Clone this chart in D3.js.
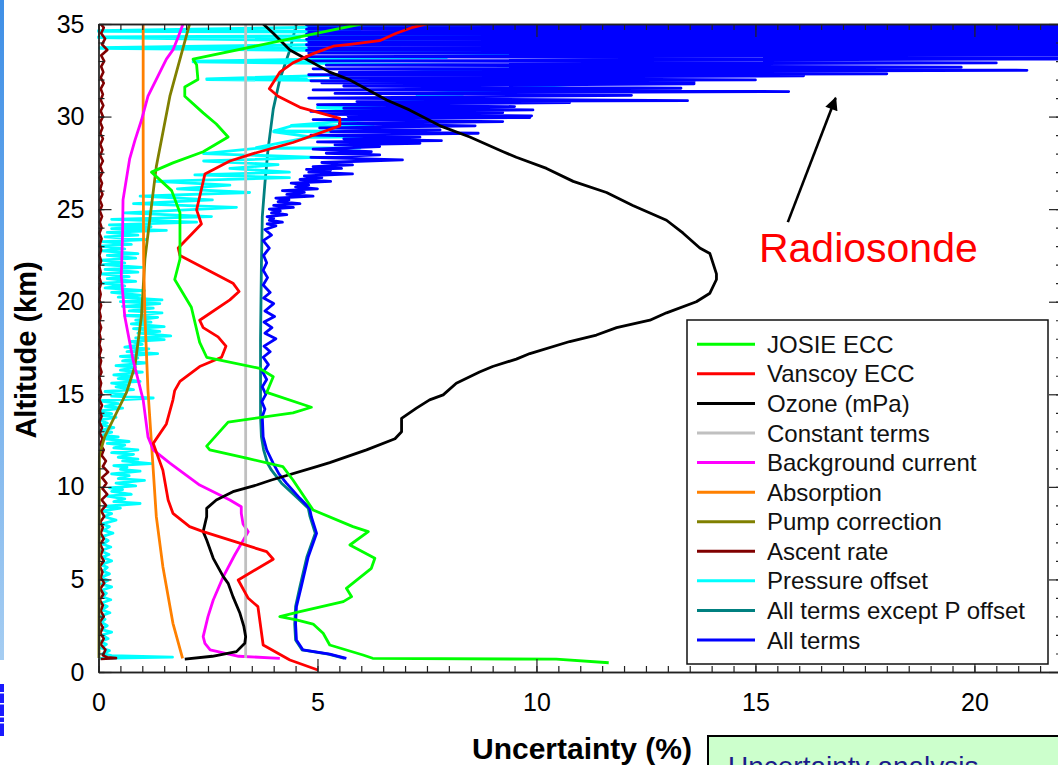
<!DOCTYPE html>
<html>
<head>
<meta charset="utf-8">
<script src="https://cdn.jsdelivr.net/npm/d3@7"></script>
<style>
  body { margin: 0; background: #fff; overflow: hidden; }
  svg { display: block; }
  text { font-family: Arial, "Liberation Sans", sans-serif; }
</style>
</head>
<body>
<svg id="chart" width="1058" height="765"></svg>
<script>
// Ozonesonde uncertainty budget: each profile is a list of [uncertainty %, altitude km]

const josieEcc = [[11.65,0.5],[10.45,0.69],[6.26,0.74],[6.04,0.92],[5.28,1.46],[5.13,2.09],[4.9,2.59],[4.52,2.81],[4.14,2.99],[4.6,3.26],[5.59,3.8],[5.78,4.07],[5.66,4.52],[6.23,5.6],[6.31,6.14],[5.74,6.86],[6.16,7.58],[5.81,7.85],[4.9,8.75],[4.44,10.37],[4.21,11.09],[3.38,11.55],[2.54,12.0],[2.47,12.2],[2.96,13.5],[4.44,14.0],[4.86,14.3],[3.84,15.1],[3.99,15.95],[3.68,16.4],[2.47,17.0],[2.31,17.8],[2.12,19.7],[1.74,21.2],[1.86,22.3],[1.86,24.8],[1.67,26.0],[1.21,27.0],[1.70,27.5],[2.39,28.1],[2.96,28.9],[2.69,29.6],[2.39,30.2],[1.97,31.1],[1.97,31.6],[2.27,32.0],[2.24,32.8],[2.16,33.1],[6.1,35.05]];

const vanscoyEcc = [[5.01,0.11],[4.37,0.65],[3.76,1.46],[3.64,3.53],[3.42,3.98],[3.19,4.97],[3.99,6.09],[3.84,6.5],[2.39,7.58],[2.08,7.85],[1.70,8.57],[1.59,9.29],[1.47,10.9],[1.25,12.35],[1.55,13.4],[1.70,14.7],[1.74,15.2],[1.86,15.7],[2.31,16.5],[2.81,17.0],[2.91,17.6],[2.73,18.1],[2.39,18.6],[2.31,19.0],[3.0,20.1],[3.21,20.55],[3.07,21.0],[1.86,22.5],[1.82,22.9],[2.35,24.2],[2.24,24.96],[2.43,26.9],[3.0,27.6],[3.53,28.0],[4.44,28.6],[5.51,29.5],[5.51,29.9],[4.6,30.5],[4.1,31.1],[3.9,31.5],[4.14,32.4],[4.44,32.9],[4.90,33.4],[5.36,33.8],[5.74,33.9],[6.42,34.1],[6.8,34.5],[7.15,34.8],[7.5,35.0]];

const ozoneMpa = [[1.97,0.69],[2.6,0.85],[3.15,1.1],[3.34,1.55],[3.36,1.91],[3.32,2.45],[3.23,3.17],[3.07,4.07],[2.96,4.79],[2.85,5.15],[2.62,6.14],[2.47,7.13],[2.39,7.58],[2.47,8.39],[2.47,8.84],[2.69,9.29],[3.07,9.74],[3.61,10.1],[3.95,10.37],[4.98,11.09],[5.28,11.31],[6.12,12.0],[6.77,12.6],[6.92,12.98],[6.92,13.7],[7.26,14.25],[7.56,14.7],[7.87,14.97],[8.17,15.6],[8.7,16.2],[9.0,16.5],[9.54,16.9],[9.85,17.2],[10.76,17.85],[11.37,18.2],[11.83,18.6],[12.59,19.0],[12.97,19.4],[13.65,20.0],[13.96,20.46],[14.11,21.2],[14.11,21.5],[13.96,22.6],[13.73,22.9],[13.35,23.7],[12.97,24.4],[12.2,25.2],[11.6,25.9],[10.84,26.5],[10.23,27.2],[9.54,27.8],[9.24,28.1],[8.48,28.9],[7.8,29.5],[7.1,30.36],[6.58,30.9],[5.74,31.98],[5.28,32.4],[4.75,33.1],[4.37,33.6],[3.99,34.5],[3.76,35.0]];

const constantTerms = [[3.36,0.76],[3.36,35.0]];

const backgroundCurrent = [[4.14,0.74],[3.2,0.85],[2.55,1.2],[2.43,1.55],[2.39,1.91],[2.50,2.99],[2.62,3.89],[2.85,5.15],[3.11,6.32],[3.42,7.58],[3.3,8.0],[3.26,8.57],[3.26,8.93],[3.0,9.29],[2.31,10.1],[1.63,11.28],[1.25,12.0],[1.13,12.7],[1.02,14.7],[0.79,16.85],[0.60,19.2],[0.52,21.4],[0.55,23.7],[0.56,25.5],[0.71,27.7],[0.83,28.7],[0.98,29.8],[1.13,31.1],[1.36,32.2],[1.55,33.1],[1.70,33.6],[1.82,34.3],[1.93,35.0]];

const absorption = [[1.92,0.74],[1.70,2.63],[1.47,5.69],[1.32,8.39],[1.25,10.9],[1.13,15.2],[1.06,19.2],[1.03,22.3],[1.02,28.0],[1.02,35.0]];

const pumpCorrection = [[0.01,0.75],[0.02,11.6],[0.03,11.8],[0.14,12.7],[0.37,13.8],[0.64,15.1],[0.83,16.5],[0.98,19.2],[1.06,22.3],[1.19,24.8],[1.32,27.3],[1.63,31.1],[2.08,35.0]];

const ascentRate = [[0.05,0.7],[0.4,0.75],[0.2,0.8],[0.1,0.9],[0.16,1.2],[0.05,1.5],[0.12,1.8],[0.04,2.1],[0.1,2.4],[0.03,2.7],[0.12,3.0],[0.05,3.3],[0.1,3.6],[0.03,3.9],[0.11,4.2],[0.04,4.5],[0.13,4.8],[0.05,5.1],[0.09,5.4],[0.03,5.7],[0.12,6.0],[0.05,6.3],[0.1,6.6],[0.04,6.9],[0.12,7.2],[0.05,7.5],[0.1,7.8],[0.04,8.1],[0.13,8.4],[0.06,8.7],[0.17,9.0],[0.07,9.3],[0.2,9.6],[0.09,9.9],[0.18,10.2],[0.08,10.5],[0.22,10.8],[0.1,11.1],[0.17,11.4],[0.07,11.7],[0.12,12.0],[0.04,12.3],[0.09,12.6],[0.03,12.9],[0.08,13.2],[0.02,13.5],[0.07,13.8],[0.03,14.1],[0.08,14.4],[0.02,14.7],[0.07,15.0],[0.03,15.3],[0.06,15.6],[0.02,15.9],[0.07,16.2],[0.03,16.5],[0.06,16.8],[0.02,17.1],[0.06,17.4],[0.02,17.7],[0.05,18.0],[0.02,18.3],[0.06,18.6],[0.02,18.9],[0.05,19.2],[0.02,19.5],[0.06,19.8],[0.02,20.1],[0.05,20.4],[0.02,20.7],[0.06,21.0],[0.02,21.3],[0.05,21.6],[0.02,21.9],[0.06,22.2],[0.02,22.5],[0.06,22.8],[0.03,23.1],[0.07,23.4],[0.02,23.7],[0.07,24.0],[0.03,24.3],[0.08,24.6],[0.03,24.9],[0.08,25.2],[0.03,25.5],[0.09,25.8],[0.04,26.1],[0.08,26.4],[0.03,26.7],[0.09,27.0],[0.04,27.3],[0.1,27.6],[0.04,27.9],[0.09,28.2],[0.04,28.5],[0.1,28.8],[0.04,29.1],[0.09,29.4],[0.04,29.7],[0.1,30.0],[0.05,30.3],[0.11,30.6],[0.05,30.9],[0.1,31.2],[0.05,31.5],[0.12,31.8],[0.05,32.1],[0.11,32.4],[0.06,32.7],[0.13,33.0],[0.06,33.3],[0.2,33.6],[0.08,33.9],[0.15,34.2],[0.06,34.5],[0.12,34.8],[0.05,35.0]];

const pressureOffset = [[0.02,0.74],[1.69,0.8],[0.3,0.88],[0.1,1.0],[0.25,1.15],[0.05,1.3],[0.18,1.5],[0.04,1.65],[0.22,1.8],[0.08,2.0],[0.3,2.15],[0.05,2.3],[0.2,2.5],[0.06,2.7],[0.15,2.85],[0.03,3.0],[0.26,3.2],[0.08,3.35],[0.2,3.55],[0.04,3.7],[0.28,3.9],[0.1,4.05],[0.18,4.25],[0.05,4.4],[0.3,4.6],[0.07,4.75],[0.22,4.95],[0.04,5.1],[0.25,5.3],[0.1,5.45],[0.2,5.65],[0.05,5.8],[0.3,6.0],[0.08,6.2],[0.24,6.35],[0.05,6.55],[0.28,6.75],[0.1,6.9],[0.22,7.1],[0.06,7.3],[0.33,7.5],[0.12,7.65],[0.25,7.85],[0.08,8.0],[0.4,8.2],[0.12,8.4],[0.3,8.55],[0.1,8.7],[0.5,8.85],[0.12,8.95],[0.95,9.1],[0.35,9.2],[0.6,9.35],[0.2,9.5],[0.75,9.6],[0.3,9.75],[0.55,9.85],[0.25,9.95],[0.85,10.05],[0.4,10.2],[1.05,10.35],[0.45,10.45],[0.7,10.6],[0.3,10.7],[0.95,10.85],[0.5,10.95],[0.65,11.05],[0.35,11.15],[1.2,11.25],[0.55,11.4],[0.9,11.5],[0.45,11.6],[0.8,11.75],[0.3,11.85],[0.9,12.0],[0.35,12.1],[0.6,12.25],[0.2,12.35],[0.7,12.45],[0.1,12.6],[0.45,12.7],[0.08,12.8],[0.3,12.95],[0.04,13.05],[0.35,13.2],[0.05,13.35],[0.2,13.45],[0.02,13.6],[0.4,13.75],[0.08,13.85],[0.3,13.95],[0.03,14.1],[0.55,14.25],[0.15,14.35],[0.45,14.5],[0.02,14.65],[1.25,14.8],[0.3,14.9],[0.6,15.0],[0.15,15.15],[0.8,15.25],[0.4,15.4],[0.7,15.5],[0.3,15.6],[0.95,15.7],[0.45,15.85],[0.75,15.95],[0.35,16.05],[1.0,16.2],[0.5,16.3],[0.85,16.45],[0.4,16.55],[1.1,16.7],[0.55,16.8],[0.9,16.95],[0.5,17.05],[1.35,17.2],[0.65,17.3],[1.15,17.45],[0.6,17.55],[1.0,17.7],[0.75,17.85],[1.5,17.95],[0.85,18.05],[1.65,18.15],[0.9,18.3],[1.4,18.4],[0.8,18.55],[1.5,18.65],[0.75,18.8],[1.2,18.9],[0.85,19.0],[1.35,19.15],[0.6,19.25],[1.45,19.4],[0.7,19.5],[1.25,19.65],[0.55,19.75],[1.4,19.9],[0.5,20.0],[1.45,20.1],[0.45,20.25],[0.95,20.35],[0.3,20.5],[1.05,20.6],[0.15,20.75],[0.6,20.85],[0.1,21.0],[0.85,21.1],[0.2,21.25],[0.7,21.35],[0.05,21.5],[0.9,21.6],[0.15,21.75],[1.0,21.85],[0.1,22.0],[0.6,22.1],[0.05,22.25],[0.85,22.35],[0.2,22.5],[0.9,22.6],[0.08,22.75],[0.6,22.85],[0.02,23.0],[0.75,23.1],[0.1,23.25],[1.1,23.35],[0.15,23.5],[0.9,23.6],[0.2,23.75],[1.55,23.85],[0.3,23.95],[1.2,24.05],[0.25,24.15],[2.24,24.3],[0.3,24.45],[2.58,24.6],[0.6,24.8],[3.15,25.1],[0.8,25.3],[2.6,25.5],[0.95,25.7],[3.45,25.9],[1.8,26.1],[3.0,26.3],[1.3,26.5],[4.36,26.7],[2.2,26.85],[4.36,27.0],[3.0,27.2],[4.1,27.4],[2.4,27.6],[5.0,27.8],[2.4,28.0],[3.6,28.28],[5.97,28.3],[3.6,28.32],[4.8,28.88],[6.2,28.9],[4.8,28.92],[4.0,29.18],[6.5,29.2],[4.0,29.22],[4.4,29.48],[6.27,29.5],[4.4,29.52],[6.65,29.93],[7.75,29.95],[6.65,29.97],[7.1,30.18],[8.17,30.2],[7.1,30.22],[5.0,30.48],[6.42,30.5],[5.0,30.52],[7.4,30.93],[8.4,30.95],[7.4,30.97],[7.27,31.18],[8.32,31.2],[7.27,31.22],[8.86,31.4],[9.73,31.42],[8.86,31.44],[11.1,31.78],[11.8,31.8],[11.1,31.82],[2.47,32.0],[4.75,32.02],[2.47,32.04],[6.12,32.28],[7.38,32.3],[6.12,32.32],[10.7,32.68],[12.2,32.7],[10.7,32.72],[2.16,32.95],[4.75,32.97],[2.16,32.99],[6.77,33.17],[7.95,33.19],[6.77,33.21],[10.8,33.4],[12.4,33.42],[10.8,33.44],[0.03,33.68],[6.9,33.7],[0.03,33.72],[7.66,33.98],[8.82,34.0],[7.66,34.02],[0.0,34.26],[4.6,34.28],[0.0,34.3],[13.0,34.46],[13.8,34.48],[13.0,34.5],[0.0,34.6],[5.97,34.62],[0.0,34.64],[7.86,34.93],[12.06,34.95],[7.86,34.97]];

const allExceptPOffset = [[5.62,0.74],[5.25,0.97],[4.65,1.19],[4.5,1.73],[4.48,2.6],[4.5,3.53],[4.6,4.61],[4.76,6.23],[4.95,7.49],[4.83,8.39],[4.79,8.84],[4.55,9.38],[4.18,10.2],[3.95,10.9],[3.86,11.27],[3.77,12.0],[3.72,12.7],[3.7,13.8],[3.7,16.0],[3.7,18.0],[3.71,20.0],[3.72,22.0],[3.74,24.6],[3.80,26.4],[3.87,28.2],[3.99,30.4],[4.14,32.0],[4.37,33.6],[4.52,35.0]];

const allTerms = [[5.66,0.74],[5.28,0.97],[4.67,1.19],[4.52,1.73],[4.50,2.6],[4.52,3.53],[4.63,4.61],[4.79,6.23],[4.98,7.49],[4.86,8.39],[4.82,8.84],[4.6,9.38],[4.29,10.2],[4.12,10.7],[3.99,11.27],[3.84,12.0],[3.76,12.7],[3.74,13.8],[3.8,14.2],[3.73,14.6],[3.82,15.0],[3.74,15.4],[3.84,15.8],[3.75,16.2],[3.88,16.6],[3.76,17.0],[3.92,17.3],[3.78,17.6],[4.05,18.0],[3.8,18.3],[3.96,18.6],[3.78,18.9],[4.02,19.2],[3.8,19.5],[4.0,19.9],[3.77,20.2],[3.92,20.5],[3.76,20.9],[3.86,21.3],[3.76,21.7],[3.84,22.1],[3.77,22.5],[3.9,22.9],[3.76,23.3],[3.95,23.6],[3.8,23.9],[4.05,24.1],[3.85,24.2],[4.2,24.3],[3.9,24.4],[4.0,24.5],[3.85,24.6],[4.3,24.7],[3.95,24.8],[4.15,24.9],[3.9,25.0],[4.45,25.1],[4.0,25.2],[4.6,25.3],[4.1,25.4],[4.35,25.5],[4.05,25.6],[4.9,25.7],[4.3,25.8],[4.7,25.9],[4.2,26.0],[5.0,26.1],[4.5,26.2],[4.8,26.3],[4.4,26.4],[5.3,26.5],[4.6,26.6],[5.1,26.7],[4.7,26.8],[5.8,26.9],[4.8,27.0],[5.3,27.1],[4.75,27.15],[5.55,27.2],[4.9,27.3],[5.8,27.39],[5.1,27.52],[6.94,27.66],[4.85,27.8],[6.42,27.93],[5.2,28.02],[6.23,28.1],[4.9,28.24],[6.42,28.38],[5.4,28.47],[7.34,28.56],[5.0,28.63],[7.83,28.7],[5.6,28.8],[7.34,28.89],[4.85,29.0],[8.67,29.1],[5.3,29.19],[7.8,29.28],[5.05,29.39],[8.6,29.5],[5.5,29.62],[9.23,29.73],[4.9,29.84],[9.85,29.95],[5.7,30.0],[9.89,30.04],[5.2,30.12],[9.23,30.21],[4.85,30.28],[9.92,30.36],[5.6,30.45],[9.5,30.54],[5.0,30.65],[10.76,30.76],[5.9,30.81],[13.45,30.86],[4.8,31.0],[12.17,31.15],[5.4,31.25],[15.76,31.35],[4.9,31.44],[13.3,31.53],[5.6,31.65],[13.6,31.77],[5.1,31.82],[13.6,31.87],[4.85,31.93],[15.0,31.98],[5.3,32.09],[16.1,32.2],[4.8,32.26],[18.0,32.31],[5.5,32.4],[21.2,32.5],[4.9,32.58],[19.7,32.67],[5.2,32.78],[20.5,32.9],[4.8,33.01],[26.0,33.13],[4.75,33.24],[28.0,33.35],[4.8,33.43],[30.0,33.5],[4.75,33.57],[30.0,33.64],[4.8,33.72],[30.0,33.8],[4.75,33.88],[30.0,33.96],[4.8,34.03],[30.0,34.1],[4.75,34.17],[30.0,34.23],[4.8,34.31],[30.0,34.4],[4.75,34.45],[30.0,34.5],[4.8,34.57],[30.0,34.63],[4.75,34.72],[30.0,34.8],[4.8,34.85],[30.0,34.9],[4.75,34.95],[30.0,35.0],[4.8,35.05]];

// Axis ticks
const xMajorTicks = [0, 5, 10, 15, 20];
const yMajorTicks = [0, 5, 10, 15, 20, 25, 30, 35];

// Legend entries (top to bottom) and the order the profiles are drawn in
const seriesNames = ["JOSIE ECC", "Vanscoy ECC", "Ozone (mPa)", "Constant terms", "Background current", "Absorption", "Pump correction", "Ascent rate", "Pressure offset", "All terms except P offset", "All terms"];
const seriesColors = ["#00ff00", "#ff0000", "#000000", "#c0c0c0", "#ff00ff", "#ff8000", "#808000", "#800000", "#00ffff", "#008080", "#0000ff"];
const seriesData = [josieEcc, vanscoyEcc, ozoneMpa, constantTerms, backgroundCurrent, absorption, pumpCorrection, ascentRate, pressureOffset, allExceptPOffset, allTerms];
const drawOrder = [9, 8, 10, 7, 6, 5, 4, 3, 2, 1, 0];

// Annotation
const noteText = "Radiosonde";
const noteTextPos = [15.08, 22.15];
const noteArrowFrom = [15.74, 24.3];
const noteArrowTo = [16.83, 31.0];

const svg = d3.select("#chart");
const plotLeft = 98.5, plotRight = 1062, plotTop = 24, plotBottom = 672;

const x = d3.scaleLinear().domain([0, 22]).range([plotLeft, plotRight]);
const y = d3.scaleLinear().domain([0, 35]).range([plotBottom, plotTop]);

// slide decorations around the chart
const defs = svg.append("defs");
const grad = defs.append("linearGradient").attr("id", "edgeGrad").attr("x1", 0).attr("x2", 0).attr("y1", 0).attr("y2", 1);
grad.append("stop").attr("offset", "0%").attr("stop-color", "#3f8fe6");
grad.append("stop").attr("offset", "100%").attr("stop-color", "#a5cdf2");
svg.append("rect").attr("x", 0).attr("y", 0).attr("width", 4).attr("height", 660).attr("fill", "url(#edgeGrad)");
svg.append("rect").attr("x", 0).attr("y", 684).attr("width", 4).attr("height", 52).attr("fill", "#1a1aff");
[692, 703, 716, 722].forEach(v => svg.append("rect").attr("x", 0).attr("y", v).attr("width", 4).attr("height", 1.5).attr("fill", "#fff"));

defs.append("clipPath").attr("id", "plotClip")
  .append("rect").attr("x", plotLeft - 4).attr("y", plotTop).attr("width", plotRight - plotLeft + 4).attr("height", plotBottom - plotTop);

// profiles
const line = d3.line().x(d => x(d[0])).y(d => y(d[1]));
const plot = svg.append("g").attr("clip-path", "url(#plotClip)");
drawOrder.forEach(i => {
  plot.append("path")
    .datum(seriesData[i])
    .attr("d", line)
    .attr("fill", "none")
    .attr("stroke", seriesColors[i])
    .attr("stroke-width", i === 7 ? 2.6 : 2.8)
    .attr("stroke-linejoin", "round");
});

// axes with inward ticks on all four sides
function styleAxis(g, labelled) {
  g.select(".domain").attr("stroke", "#222").attr("stroke-width", 1.3);
  g.selectAll(".tick line").attr("stroke", "#222").attr("stroke-width", 1.2);
  if (labelled) g.selectAll(".tick text").attr("font-size", 25).attr("fill", "#000").attr("font-family", "Arial, 'Liberation Sans', sans-serif");
  else g.selectAll(".tick text").remove();
}
const xMinor = d3.range(0, 22.001, 0.5);
const yMinor = d3.range(0, 35.001, 1);

svg.append("g").attr("transform", `translate(0,${plotBottom})`)
  .call(d3.axisBottom(x).tickValues(xMinor).tickSize(-6).tickSizeOuter(0).tickFormat(""))
  .call(g => styleAxis(g, false));
svg.append("g").attr("transform", `translate(0,${plotBottom})`)
  .call(d3.axisBottom(x).tickValues(xMajorTicks).tickSize(-13).tickSizeOuter(0).tickPadding(21))
  .call(g => styleAxis(g, true));
svg.append("g").attr("transform", `translate(0,${plotTop})`)
  .call(d3.axisTop(x).tickValues(xMinor).tickSize(-6).tickSizeOuter(0).tickFormat(""))
  .call(g => styleAxis(g, false));
svg.append("g").attr("transform", `translate(0,${plotTop})`)
  .call(d3.axisTop(x).tickValues(xMajorTicks).tickSize(-13).tickSizeOuter(0).tickFormat(""))
  .call(g => styleAxis(g, false));
svg.append("g").attr("transform", `translate(${plotLeft},0)`)
  .call(d3.axisLeft(y).tickValues(yMinor).tickSize(-6).tickSizeOuter(0).tickFormat(""))
  .call(g => styleAxis(g, false));
svg.append("g").attr("transform", `translate(${plotLeft},0)`)
  .call(d3.axisLeft(y).tickValues(yMajorTicks).tickSize(-13).tickSizeOuter(0).tickPadding(14))
  .call(g => styleAxis(g, true));
svg.append("g").attr("transform", `translate(${plotRight},0)`)
  .call(d3.axisRight(y).tickValues(yMinor).tickSize(-6).tickSizeOuter(0).tickFormat(""))
  .call(g => styleAxis(g, false));
svg.append("g").attr("transform", `translate(${plotRight},0)`)
  .call(d3.axisRight(y).tickValues(yMajorTicks).tickSize(-13).tickSizeOuter(0).tickFormat(""))
  .call(g => styleAxis(g, false));

// axis titles
svg.append("text")
  .attr("transform", `translate(36,${(plotTop + plotBottom) / 2 + 2}) rotate(-90)`)
  .attr("text-anchor", "middle").attr("font-size", 29).attr("font-weight", "bold")
  .text("Altitude (km)");
svg.append("text")
  .attr("x", 582).attr("y", 759)
  .attr("text-anchor", "middle").attr("font-size", 30).attr("font-weight", "bold")
  .text("Uncertainty (%)");

// legend
const lg = svg.append("g").attr("transform", "translate(687,320)");
lg.append("rect").attr("width", 361).attr("height", 344).attr("fill", "#fff").attr("stroke", "#111").attr("stroke-width", 1.5);
seriesNames.forEach((name, i) => {
  const ry = 24.3 + i * 29.57;
  lg.append("line").attr("x1", 10).attr("x2", 68).attr("y1", ry).attr("y2", ry)
    .attr("stroke", seriesColors[i]).attr("stroke-width", 3);
  lg.append("text").attr("x", 80).attr("y", ry + 8.5).attr("font-size", 24).attr("fill", "#111").text(name);
});

// annotation arrow and label
const marker = defs.append("marker").attr("id", "arrowHead")
  .attr("viewBox", "0 0 10 10").attr("refX", 9).attr("refY", 5)
  .attr("markerUnits", "userSpaceOnUse").attr("markerWidth", 15).attr("markerHeight", 13)
  .attr("orient", "auto");
marker.append("path").attr("d", "M0,0 L10,5 L0,10 Z").attr("fill", "#000");
svg.append("line")
  .attr("x1", x(noteArrowFrom[0])).attr("y1", y(noteArrowFrom[1]))
  .attr("x2", x(noteArrowTo[0])).attr("y2", y(noteArrowTo[1]))
  .attr("stroke", "#000").attr("stroke-width", 2.6).attr("marker-end", "url(#arrowHead)");
svg.append("text")
  .attr("x", x(noteTextPos[0])).attr("y", y(noteTextPos[1]))
  .attr("font-family", "'Open Sans', 'Noto Sans', sans-serif").attr("font-size", 41).attr("fill", "#ff0000")
  .text(noteText);

// caption box below the chart
svg.append("rect").attr("x", 708).attr("y", 736).attr("width", 420).attr("height", 60)
  .attr("fill", "#ccffcc").attr("stroke", "#000").attr("stroke-width", 2);
svg.append("text").attr("x", 728).attr("y", 776).attr("font-size", 28).attr("fill", "#1c1c8a")
  .text("Uncertainty analysis");
</script>
</body>
</html>
